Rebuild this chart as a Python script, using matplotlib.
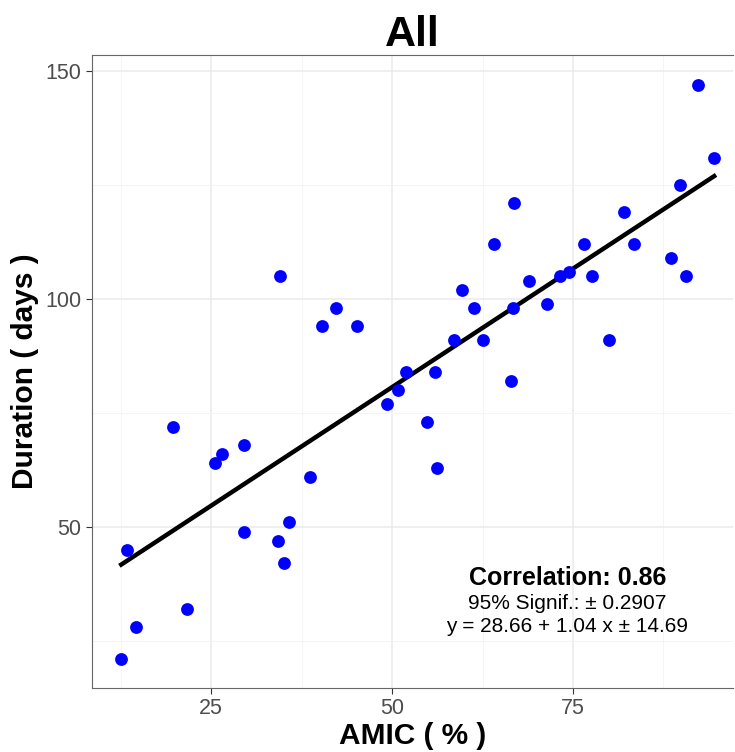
import numpy as np
import matplotlib
matplotlib.use("Agg")
import matplotlib.pyplot as plt
from matplotlib.ticker import MultipleLocator

plt.rcParams["font.family"] = ["Liberation Sans", "DejaVu Sans"]

# AMIC (%) vs duration (days)
amic = [12.6, 13.4, 14.6, 19.8, 21.7, 25.6, 26.5, 29.6, 29.6, 34.3,
        34.5, 35.1, 35.8, 38.7, 40.3, 42.3, 45.2, 49.3, 50.8, 51.9,
        54.8, 55.9, 56.2, 58.6, 59.7, 61.3, 62.6, 64.1, 66.4, 66.7,
        66.9, 68.9, 71.4, 73.2, 74.4, 76.5, 77.6, 80.0, 82.0, 83.4,
        88.5, 89.8, 90.6, 92.3, 94.5]
duration = [21, 45, 28, 72, 32, 64, 66, 68, 49, 47,
            105, 42, 51, 61, 94, 98, 94, 77, 80, 84,
            73, 84, 63, 91, 102, 98, 91, 112, 82, 98,
            121, 104, 99, 105, 106, 112, 105, 91, 119, 112,
            109, 125, 105, 147, 131]

intercept = 28.66
slope = 1.04
annot = ["Correlation: 0.86", "95% Signif.: \u00b1 0.2907",
         "y = 28.66 + 1.04 x \u00b1 14.69"]

fig = plt.figure(figsize=(7.35, 7.52), dpi=100)
ax = fig.add_axes([92 / 735, 1 - 688 / 752, 641 / 735, 633 / 752])

ax.scatter(amic, duration, s=85, color="#0000ff", zorder=3, linewidths=0)
xs = np.array([min(amic), max(amic)])
ax.plot(xs, intercept + slope * xs, color="black", lw=3.2, zorder=2)

ax.set_xlim(8.56, 97.1)
ax.set_ylim(14.7, 153.5)
ax.xaxis.set_major_locator(MultipleLocator(25))
ax.xaxis.set_minor_locator(MultipleLocator(12.5))
ax.yaxis.set_major_locator(MultipleLocator(50))
ax.yaxis.set_minor_locator(MultipleLocator(25))
ax.grid(which="major", color="#ebebeb", lw=1.1)
ax.grid(which="minor", color="#f4f4f4", lw=0.6)
ax.set_axisbelow(True)
ax.tick_params(which="minor", length=0)
ax.tick_params(which="major", length=4, color="#333333", labelsize=15.5,
               labelcolor="#4d4d4d")
for side in ["left", "bottom", "top"]:
    ax.spines[side].set_color("#666666")
ax.spines["right"].set_visible(False)

ax.set_xlabel("AMIC ( % )", fontsize=21.5, fontweight="bold", labelpad=2)
ax.set_ylabel("Duration ( days )", fontsize=21.5, fontweight="bold", labelpad=5)
ax.set_title("All", fontsize=31, fontweight="bold", pad=5)

ax.text(74.2, 38.8, annot[0], ha="center", va="center", fontsize=18,
        fontweight="bold")
ax.text(74.2, 33.3, annot[1], ha="center", va="center", fontsize=15)
ax.text(74.2, 28.1, annot[2], ha="center", va="center", fontsize=15)

fig.savefig("out.png", dpi=100)
